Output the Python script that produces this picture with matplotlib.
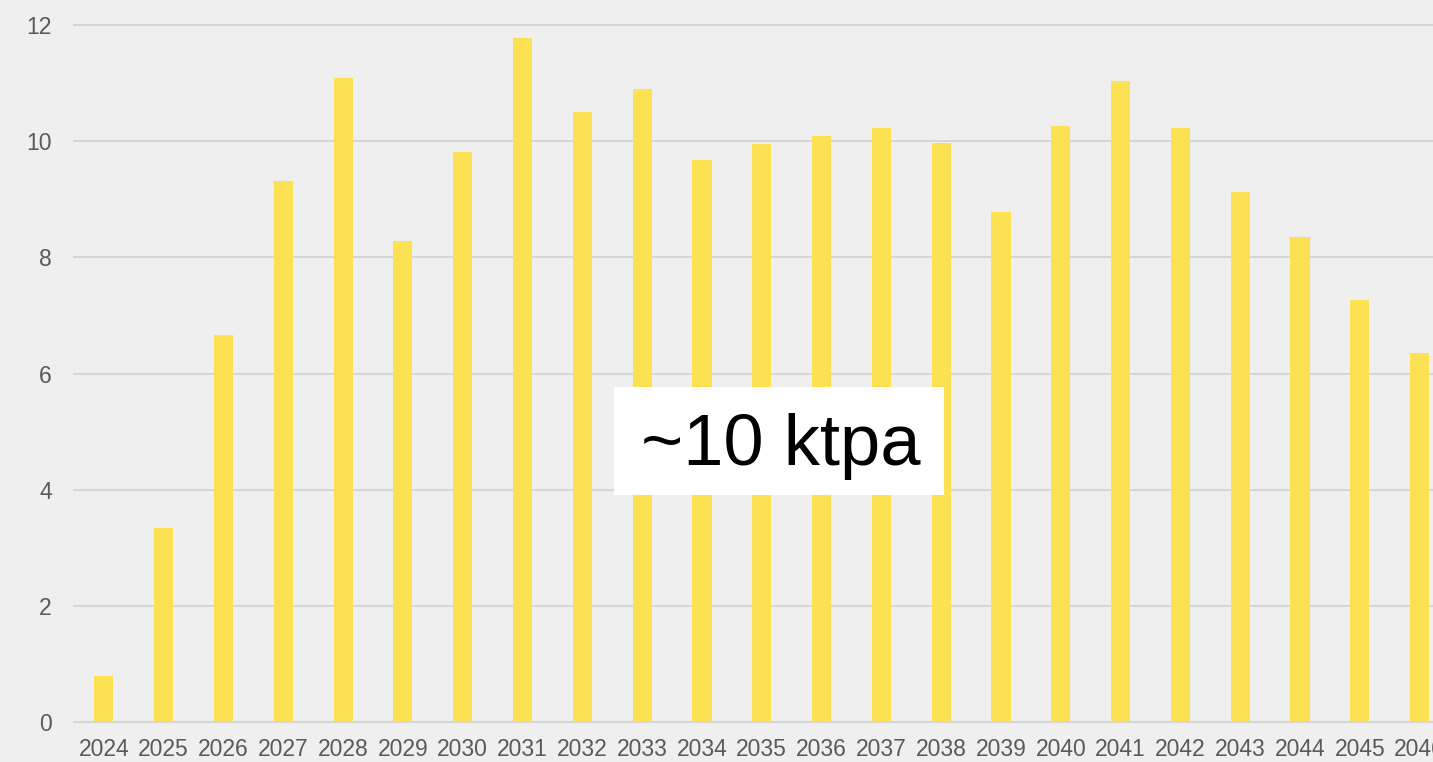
import matplotlib.pyplot as plt
import matplotlib.patches as mpatches
import numpy as np

years = [str(y) for y in range(2024, 2047)]
values = [0.79, 3.34, 6.66, 9.31, 11.08, 8.28, 9.81, 11.77, 10.5, 10.89, 9.67,
          9.95, 10.09, 10.22, 9.97, 8.78, 10.26, 11.03, 10.22, 9.12, 8.35, 7.26, 6.35]
yticks = [0, 2, 4, 6, 8, 10, 12]

W, H = 1433, 762
bg = '#efefef'
fig = plt.figure(figsize=(W / 100, H / 100), dpi=100, facecolor=bg)
plt.rcParams['font.family'] = ['Liberation Sans', 'DejaVu Sans']

ax = fig.add_axes([74 / W, 40 / H, (W - 74) / W, (722 - 25) / H])
ax.set_facecolor(bg)
x = np.arange(len(years))
ax.bar(x, values, width=0.32, color='#fce153', zorder=3)

ax.set_xlim(-0.5, (W - 104) / 59.8)
ax.set_ylim(0, 12)
ax.set_yticks(yticks)
ax.set_xticks(x)
ax.set_xticklabels(years)
ax.tick_params(axis='both', length=0, labelsize=16.5, colors='#5a5a5a')
ax.tick_params(axis='x', pad=11.5)
ax.tick_params(axis='y', pad=16)
ax.grid(axis='y', color='#d6d6d6', linewidth=1.4, zorder=0)
for s in ax.spines.values():
    s.set_visible(False)
for gl in ax.get_ygridlines():
    gl.set_clip_on(False)

# label box
fig.patches.append(mpatches.Rectangle((614 / W, 1 - 495 / H), 330 / W, 108 / H,
                                      transform=fig.transFigure, facecolor='white',
                                      edgecolor='none', zorder=5))
fig.text(781 / W, 1 - 446 / H, '~10 ktpa', fontsize=52, color='black',
         ha='center', va='center', zorder=6)

fig.savefig('out.png', dpi=100, facecolor=bg)
